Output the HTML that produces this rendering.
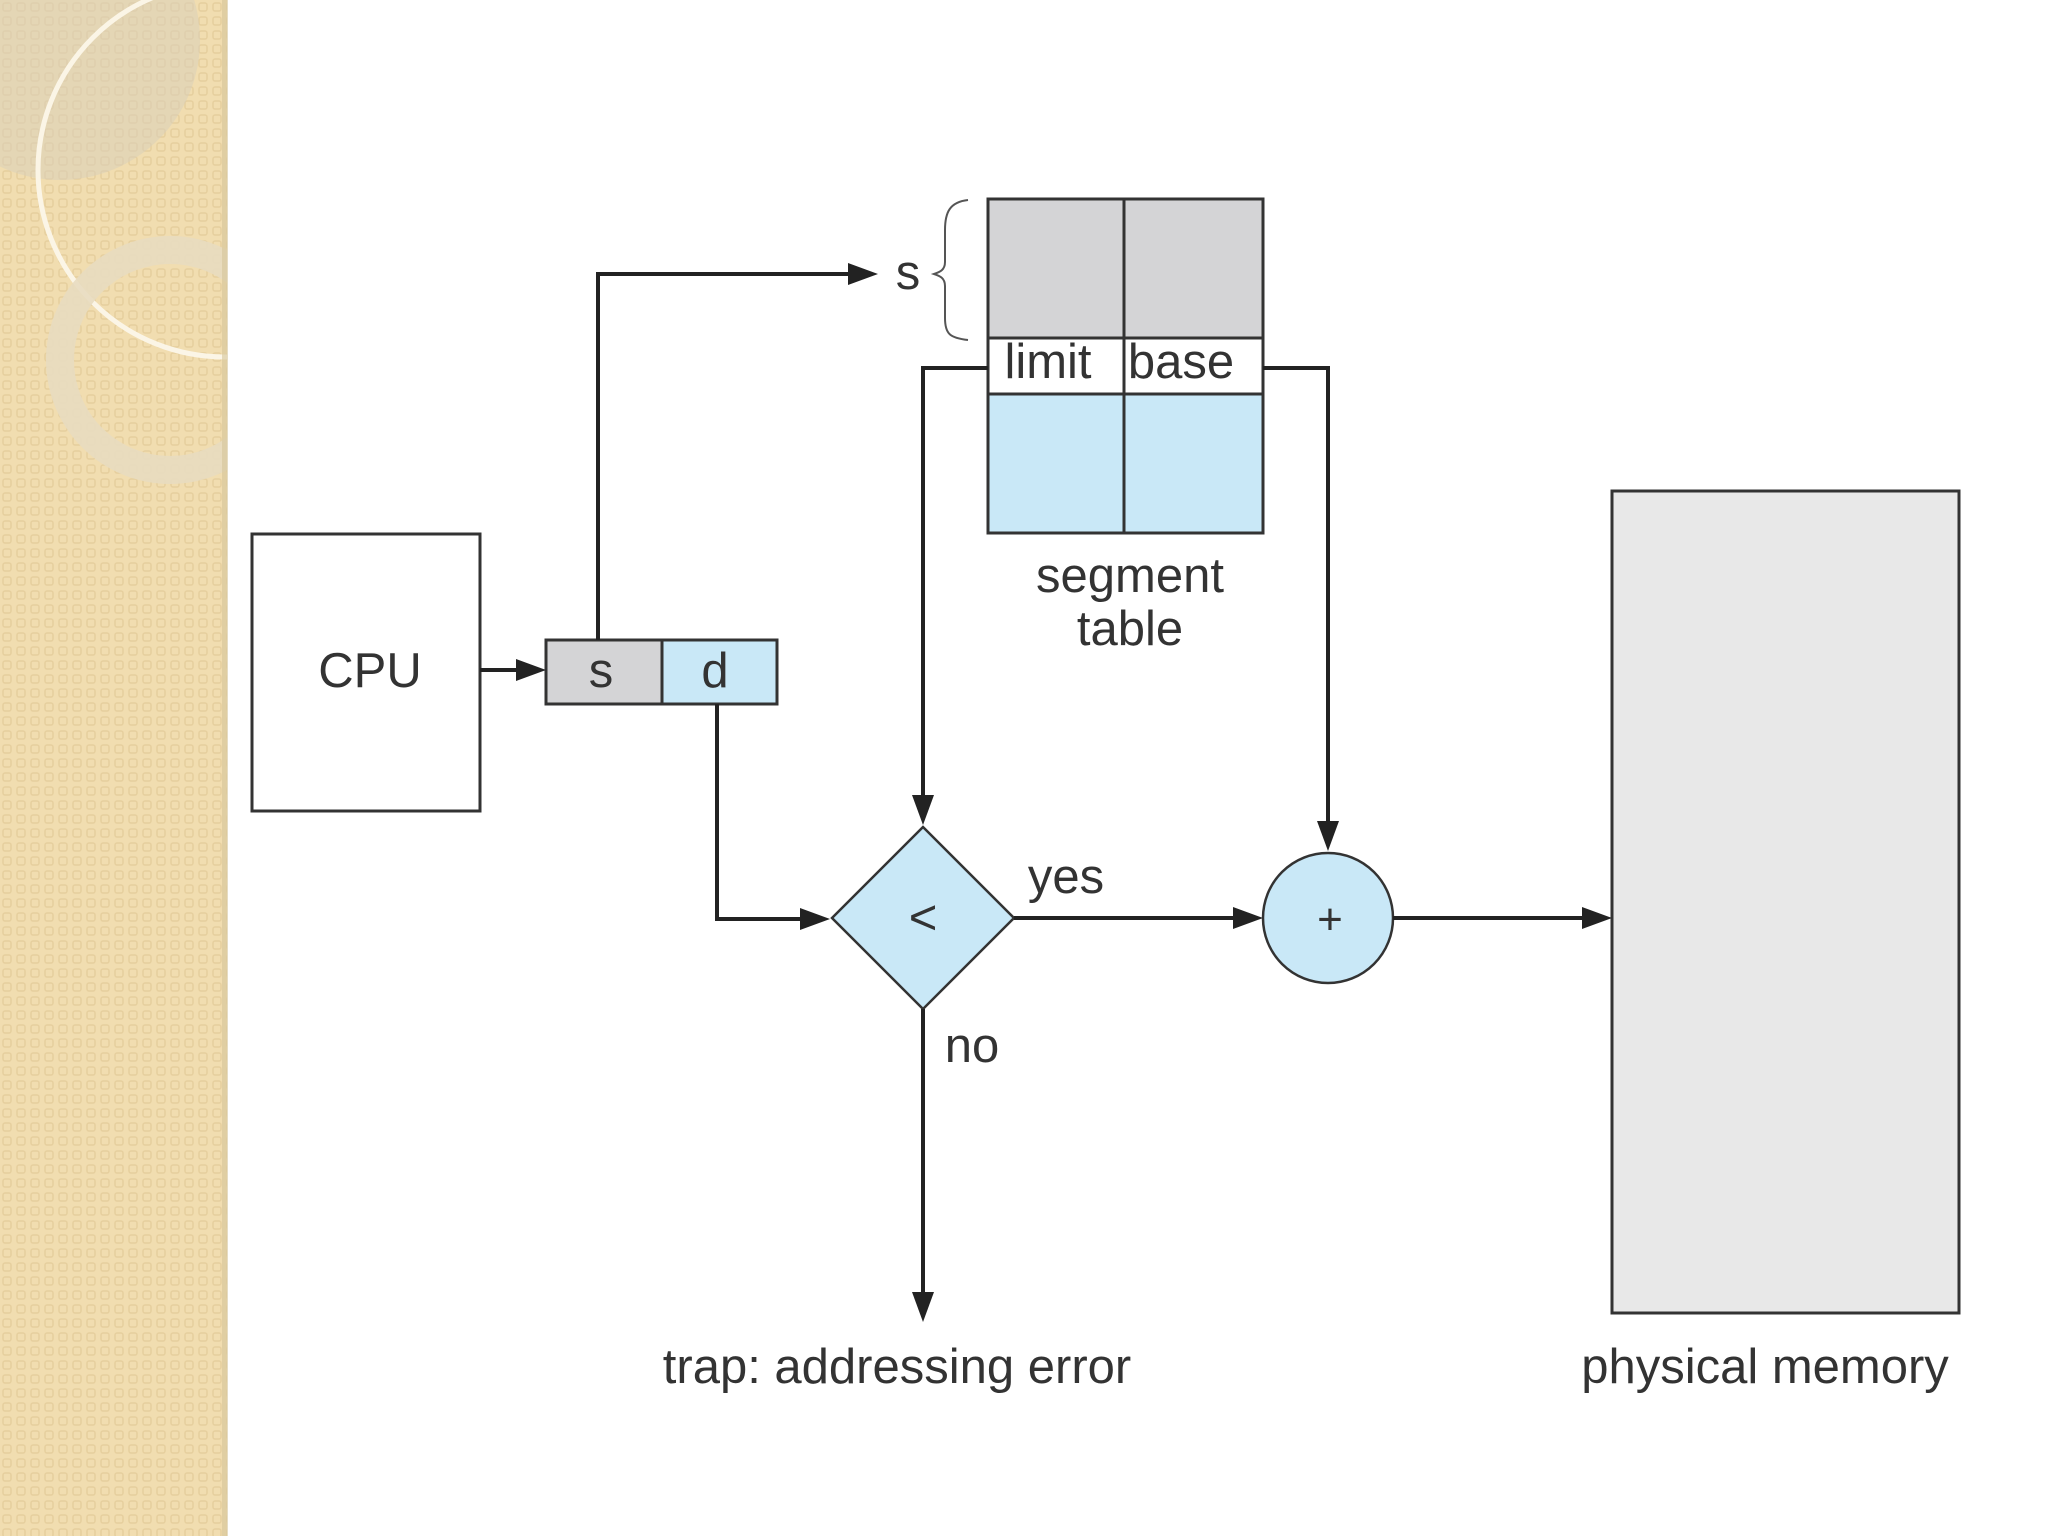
<!DOCTYPE html>
<html><head><meta charset="utf-8"><style>
html,body{margin:0;padding:0;width:2048px;height:1536px;overflow:hidden;background:#fff}
</style></head><body>
<svg width="2048" height="1536" viewBox="0 0 2048 1536" xmlns="http://www.w3.org/2000/svg" font-family="Liberation Sans, Arial, sans-serif">
<defs>
<pattern id="pt" width="14" height="14" patternUnits="userSpaceOnUse">
<rect width="14" height="14" fill="#f1ddb0"/>
<rect x="3" y="3" width="8" height="8" rx="2" fill="none" stroke="#e6cf9e" stroke-width="1.5"/>
</pattern>
<clipPath id="sb"><rect x="0" y="0" width="227" height="1536"/></clipPath>
</defs>
<rect x="0" y="0" width="227" height="1536" fill="url(#pt)"/>
<g clip-path="url(#sb)">
<circle cx="60" cy="40" r="140" fill="#d8cfba" opacity="0.55"/>
<circle cx="225" cy="170" r="187" fill="none" stroke="#fbf5e6" stroke-width="5"/>
<circle cx="170" cy="360" r="110" fill="none" stroke="#e8dcc0" stroke-width="28" opacity="0.9"/>
</g>
<rect x="222" y="0" width="6" height="1536" fill="#d6c49a" opacity="0.6"/>

<g stroke="#333" stroke-width="3" fill="none">
<rect x="252" y="534" width="228" height="277" fill="#fff"/>
<rect x="546" y="640" width="116" height="64" fill="#d4d4d6"/>
<rect x="662" y="640" width="115" height="64" fill="#c9e8f7"/>
<rect x="988" y="199" width="275" height="139" fill="#d4d4d6"/>
<rect x="988" y="338" width="275" height="56" fill="#fff"/>
<rect x="988" y="394" width="275" height="139" fill="#c9e8f7"/>
<line x1="1124" y1="199" x2="1124" y2="533"/>
<rect x="1612" y="491" width="347" height="822" fill="#e8e8e8"/>
<polygon points="923,827 1014,918 923,1009 832,918" fill="#c9e8f7" stroke-width="2.5"/>
<circle cx="1328" cy="918" r="65" fill="#c9e8f7" stroke-width="2.5"/>
</g>
<g stroke="#222" stroke-width="4" fill="none">
<polyline points="480,670 520,670"/>
<polyline points="598,640 598,274 858,274"/>
<polyline points="717,704 717,919 800,919"/>
<polyline points="988,368 923,368 923,800"/>
<polyline points="1263,368 1328,368 1328,826"/>
<polyline points="1014,918 1236,918"/>
<polyline points="1393,918 1584,918"/>
<polyline points="923,1009 923,1298"/>
</g>
<g fill="#222">
<polygon points="546,670 516,659 516,681"/>
<polygon points="878,274 848,263 848,285"/>
<polygon points="830,919 800,908 800,930"/>
<polygon points="923,825 912,795 934,795"/>
<polygon points="1328,851 1317,821 1339,821"/>
<polygon points="1263,918 1233,907 1233,929"/>
<polygon points="1612,918 1582,907 1582,929"/>
<polygon points="923,1322 912,1292 934,1292"/>
</g>
<path d="M968,200 C950,202 945,212 945,230 L945,262 C945,270 940,272 934,274 C940,276 945,278 945,286 L945,318 C945,334 950,338 968,340" fill="none" stroke="#555" stroke-width="2"/>
<g fill="#333" font-size="49" text-anchor="middle">
<text x="370" y="687">CPU</text>
<text x="601" y="687">s</text>
<text x="715" y="687">d</text>
<text x="908" y="289">s</text>
<text x="1048" y="378">limit</text>
<text x="1181" y="378">base</text>
<text x="1130" y="592">segment</text>
<text x="1130" y="645">table</text>
<text x="923" y="934">&lt;</text>
<text x="1330" y="934" font-size="44">+</text>
<text x="1066" y="893">yes</text>
<text x="972" y="1062">no</text>
<text x="897" y="1383">trap: addressing error</text>
<text x="1765" y="1383">physical memory</text>
</g>
</svg>
</body></html>
